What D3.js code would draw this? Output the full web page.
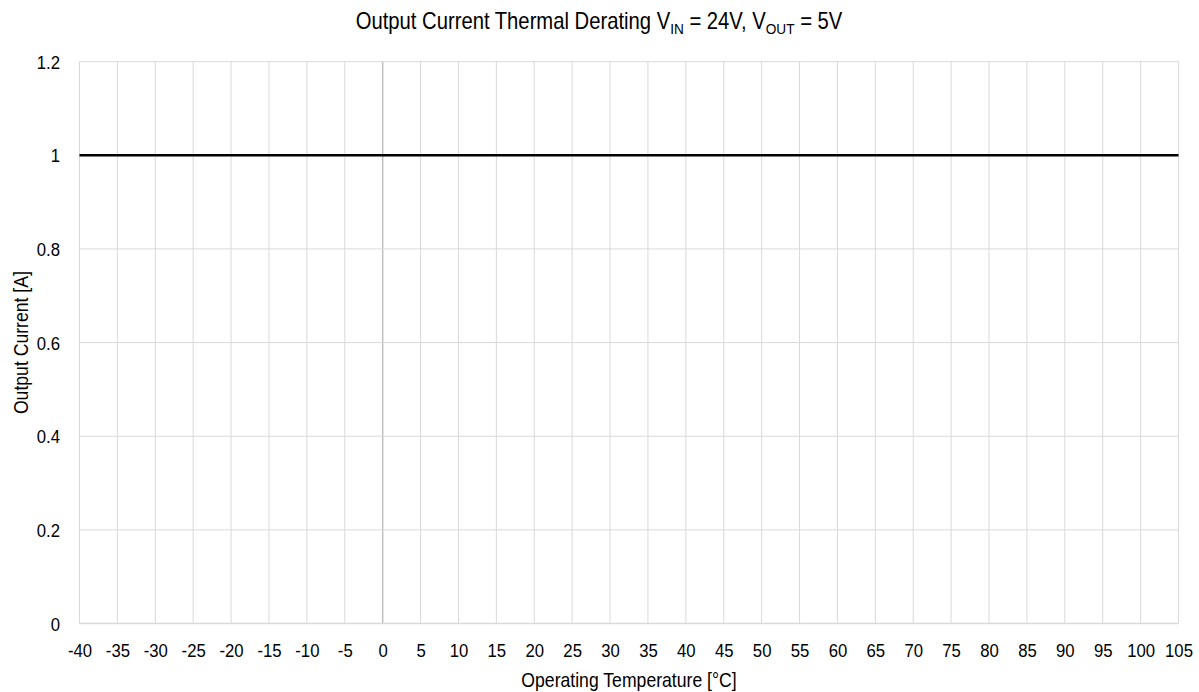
<!DOCTYPE html>
<html>
<head>
<meta charset="utf-8">
<script src="https://cdn.jsdelivr.net/npm/d3@7"></script>
<style>
  html, body { margin: 0; padding: 0; background: #fff; }
  text { font-family: "Liberation Sans Narrow", "Arial Narrow", "Liberation Sans", Arial, sans-serif; fill: #000; }
</style>
</head>
<body>
<svg id="chart" width="1199" height="692"></svg>
<script>
// Data
const temperatures = [-40, 105];
const currents = [1, 1];
const xTicks = d3.range(-40, 106, 5);
const yTicks = [0, 0.2, 0.4, 0.6, 0.8, 1, 1.2];
const yTickLabels = ["0", "0.2", "0.4", "0.6", "0.8", "1", "1.2"];

const W = 1199, H = 692;
const margin = { left: 79.5, right: 20.5, top: 61.7, bottom: 68.5 };
const NARROW = 0.88;
const svg = d3.select("#chart");

const x = d3.scaleLinear().domain([-40, 105]).range([margin.left, W - margin.right]);
const y = d3.scaleLinear().domain([0, 1.2]).range([H - margin.bottom, margin.top]);

// Vertical gridlines
svg.append("g").selectAll("line").data(xTicks).join("line")
  .attr("x1", d => x(d)).attr("x2", d => x(d))
  .attr("y1", y(0)).attr("y2", y(1.2))
  .attr("stroke", d => d === 0 ? "#bfbfbf" : "#d9d9d9")
  .attr("stroke-width", d => d === 0 ? 1.5 : 1);

// Horizontal gridlines
svg.append("g").selectAll("line").data(yTicks).join("line")
  .attr("x1", x(-40)).attr("x2", x(105))
  .attr("y1", d => y(d)).attr("y2", d => y(d))
  .attr("stroke", "#d9d9d9")
  .attr("stroke-width", d => d === 0 ? 1.5 : 1);

// X axis labels
const xAxis = d3.axisBottom(x).tickValues(xTicks).tickSize(0).tickPadding(0).tickFormat(d => String(d));
const gx = svg.append("g").attr("transform", `translate(0,${y(0)})`).call(xAxis);
gx.attr("font-family", null).attr("font-size", null);
gx.select(".domain").remove();
gx.selectAll("text").attr("dy", null).attr("y", 0)
  .attr("transform", `translate(0,33.5) scale(${NARROW},1)`)
  .style("font-size", "19px").attr("fill", "#000");

// Y axis labels
const yAxis = d3.axisLeft(y).tickValues(yTicks).tickSize(0).tickPadding(0)
  .tickFormat((d, i) => yTickLabels[i]);
const gy = svg.append("g").attr("transform", `translate(60,0)`).call(yAxis);
gy.attr("font-family", null).attr("font-size", null);
gy.select(".domain").remove();
gy.selectAll("text").attr("dy", "0.35em").attr("x", 0)
  .attr("transform", `scale(${NARROW},1)`)
  .style("font-size", "19px").attr("fill", "#000");

// Data line
const line = d3.line().x((d, i) => x(temperatures[i])).y(d => y(d));
svg.append("path").datum(currents)
  .attr("d", line).attr("fill", "none")
  .attr("stroke", "#000").attr("stroke-width", 2.5);

// Title
const title = svg.append("text")
  .attr("transform", `translate(599,29) scale(${NARROW},1)`)
  .attr("text-anchor", "middle").style("font-size", "23px");
title.append("tspan").text("Output Current Thermal Derating V");
title.append("tspan").text("IN").attr("font-size", "15.5px").attr("dy", 5);
title.append("tspan").text(" = 24V, V").attr("dy", -5);
title.append("tspan").text("OUT").attr("font-size", "15.5px").attr("dy", 5);
title.append("tspan").text(" = 5V").attr("dy", -5);

// Axis titles
svg.append("text")
  .attr("transform", `translate(${(x(-40) + x(105)) / 2},686.5) scale(0.86,1)`)
  .attr("text-anchor", "middle").style("font-size", "20.5px")
  .text("Operating Temperature [°C]");
svg.append("text")
  .attr("transform", `translate(27.5,${(y(0) + y(1.2)) / 2}) rotate(-90) scale(0.86,1)`)
  .attr("text-anchor", "middle").style("font-size", "20.5px")
  .text("Output Current [A]");
</script>
</body>
</html>
